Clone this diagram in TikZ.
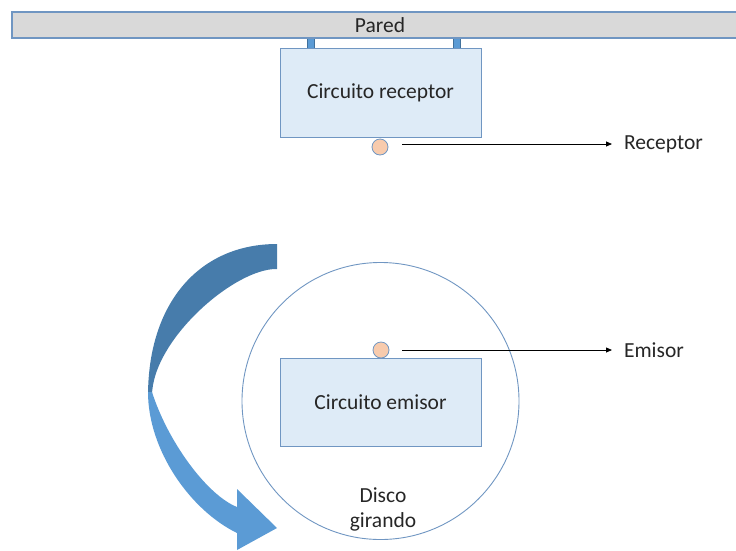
\documentclass[tikz,border=0pt]{standalone}
\usepackage{fontspec}
\setmainfont{Carlito}
\usetikzlibrary{arrows.meta}
\definecolor{boxfill}{HTML}{DEEBF7}
\definecolor{boxedge}{HTML}{7096C2}
\definecolor{wallfill}{HTML}{D9D9D9}
\definecolor{postfill}{HTML}{5B9BD5}
\definecolor{postedge}{HTML}{41719C}
\definecolor{ledfill}{HTML}{F8CBAD}
\definecolor{arrowdark}{HTML}{477CAB}
\definecolor{arrowlight}{HTML}{5B9BD5}
\tikzset{
  lbl/.style={font=\fontsize{21.5}{25}\selectfont, text=black!85},
  circuit/.style={lbl, draw=boxedge, fill=boxfill, line width=1pt, minimum width=201pt, minimum height=88pt, inner sep=0pt},
  wall/.style={lbl, draw=boxedge, fill=wallfill, line width=1.2pt, minimum width=736pt, minimum height=26pt, inner sep=0pt},
  post/.style={draw=postedge, fill=postfill, line width=0.6pt, minimum width=7pt, minimum height=10pt, inner sep=0pt},
  led/.style={circle, draw=boxedge, fill=ledfill, line width=0.8pt, minimum size=16pt, inner sep=0pt},
  disk/.style={circle, draw=boxedge, line width=0.9pt, minimum size=277pt, inner sep=0pt},
  tag/.style={lbl, anchor=west, inner sep=0pt, outer sep=0pt},
  signal/.style={line width=0.8pt, -{Triangle[length=6pt,width=5pt]}}
}
\begin{document}
\begin{tikzpicture}[x=1pt,y=-1pt]
\useasboundingbox (0,0) rectangle (736,550);

% rotating disc and the emitter circuit riding on it
\node[disk] (disco) at (380.5,401) {};
\node[circuit] (emisor) at (380.5,402) {Circuito emisor};
\node[led] (ledE) at (381,350) {};
\node[lbl, align=center] (giro) at (383,509) {Disco\\girando};

% wall with the receiver hanging from it
\node[post] (post1) at (310.5,43) {};
\node[post] (post2) at (456.5,43) {};
\node[wall] (pared) at (380,25) {Pared};
\node[circuit, minimum height=89pt] (receptor) at (380.5,92.5) {Circuito receptor};
\node[led] (ledR) at (380,147) {};

% callouts
\node[tag] (tagR) at (624,144) {Receptor};
\node[tag] (tagE) at (624,350) {Emisor};
\coordinate (startR) at (402,144);
\coordinate (startE) at (402,350);
\draw[signal] (startR) -- ([xshift=-12pt]tagR.west |- startR);
\draw[signal] (startE) -- ([xshift=-12pt]tagE.west |- startE);

% curved rotation arrow: rear band
\fill[arrowdark] (277,244) .. controls (200,244) and (148,302) .. (148,396)
  -- (152,396) .. controls (152,340) and (235,268) .. (277,269) -- cycle;
% front band with the head
\fill[arrowlight] (148,392) .. controls (148,450) and (190,510) .. (237,533)
  -- (237,550) -- (277,528) -- (237,489) -- (237,507)
  .. controls (207,495) and (168,442) .. (152,392) -- cycle;
\end{tikzpicture}
\end{document}
